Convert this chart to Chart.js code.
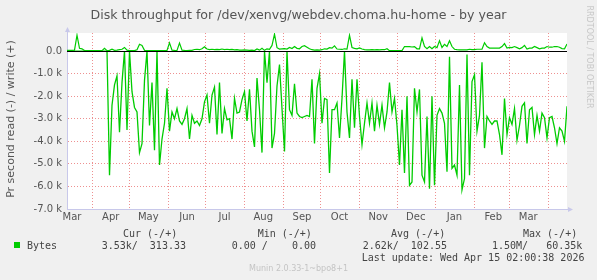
<!DOCTYPE html>
<html>
<head>
<meta charset="utf-8">
<script src="https://cdn.jsdelivr.net/npm/chart.js@4.4.1/dist/chart.umd.min.js"></script>
<style>
  html, body { margin: 0; padding: 0; background: #f0f0f0; }
  #wrap { position: relative; width: 597px; height: 280px; overflow: hidden;
          font-family: "DejaVu Sans", sans-serif; color: #555; }
  #chart { position: absolute; left: 0; top: 0; }
  .t { position: absolute; white-space: pre; }
  .mono { font-family: "DejaVu Sans Mono", monospace; font-size: 10px; line-height: 10px; color: #444; }
</style>
</head>
<body>
<div id="wrap">
  <canvas id="chart" width="597" height="280"></canvas>
  <div class="t" style="left:0;top:8px;width:597px;text-align:center;font-size:12.6px;line-height:13px;color:#555">Disk throughput for /dev/xenvg/webdev.choma.hu-home - by year</div>
  <div class="t" style="left:-89.5px;top:112.5px;width:200px;text-align:center;font-size:11px;line-height:12px;color:#555;transform:rotate(-90deg)">Pr second read (-) / write (+)</div>
  <div class="t" style="left:529px;top:52.5px;width:120px;text-align:center;font-size:8px;line-height:8px;color:#c8c8c8;transform:rotate(90deg)">RRDTOOL / TOBI OETIKER</div>

  <div class="t mono" style="left:123px;top:228.5px">Cur (-/+)</div>
  <div class="t mono" style="left:257.7px;top:228.5px">Min (-/+)</div>
  <div class="t mono" style="left:391px;top:228.5px">Avg (-/+)</div>
  <div class="t mono" style="left:523px;top:228.5px">Max (-/+)</div>

  <div class="t" style="left:14px;top:242px;width:6px;height:6px;background:#00cc00"></div>
  <div class="t mono" style="left:27px;top:240.8px">Bytes</div>
  <div class="t mono" style="left:101.7px;top:240.8px">3.53k/  313.33</div>
  <div class="t mono" style="left:231.7px;top:240.8px">0.00 /    0.00</div>
  <div class="t mono" style="left:362.7px;top:240.8px">2.62k/  102.55</div>
  <div class="t mono" style="left:492px;top:240.8px">1.50M/   60.35k</div>

  <div class="t mono" style="left:361.7px;top:252.5px">Last update: Wed Apr 15 02:00:38 2026</div>
  <div class="t" style="left:0;top:264.5px;width:597px;text-align:center;font-size:8px;line-height:8px;color:#c4c4c4">Munin 2.0.33-1~bpo8+1</div>
</div>

<script>
// one sample every 2 days, day 0 = 12 Mar 2025
const stepDays = 2;

// read (negative), bytes per second
const readBytes = [
    0, 0, 0, 0, 0, 0, 0, 0, 0, 0,
    0, 0, 0, 0, 0, 0, 0, -5500, -2400, -1500,
    -1100, -3600, -1400, 0, -3500, 0, -1800, -2500, -2700, -4500,
    -4100, -1300, 0, -3300, -1400, -4400, 0, -5050, -3900, -3200,
    -1650, -3550, -2700, -3000, -2550, -3100, -3250, -3000, -2550, -3900,
    -2850, -3200, -3100, -3300, -3000, -2250, -1950, -3200, -1950, -1600,
    -3700, -1400, -3650, -2550, -3050, -3000, -3900, -2100, -2750, -2700,
    -2150, -1800, -3100, -1700, -3550, -4250, -1200, -2600, -4500, 0,
    -1400, 0, -4300, -3650, -1550, -600, -2550, -4450, 0, -2600,
    -2850, -1450, -2750, -2900, -2950, -2900, -2850, -2900, -1250, -4100,
    -1650, -1000, -3200, -2100, -2150, -5400, -2600, -2600, -2300, -3850,
    -2100, 0, -2700, -3850, -1250, -3400, -1250, -2900, -4150, -3200,
    -2300, -3200, -2300, -3550, -2400, -3250, -2400, -3400, -2700, -1400,
    -2700, -2100, -3300, -5050, -2600, -5400, -2000, -5950, -5800, -1650,
    -2700, -1700, -5500, -5800, -2900, -6100, -2000, -5950, -2850, -2550,
    -2750, -3200, -5350, -250, -5200, -5050, -5500, -1500, -6150, -5650,
    -150, -5500, -1350, -1050, -3550, -2850, -500, -4300, -2900, -3100,
    -3250, -3100, -3100, -3700, -4600, -2100, -3700, -2950, -3250, -2550,
    -3950, -3300, -2450, -2300, -4100, -2600, -2500, -3700, -2850, -3550,
    -2750, -2950, -3850, -2950, -2900, -3400, -4100, -3400, -3550, -4000,
    -2450
];

// write (positive), bytes per second
const writeBytes = [
    30, 30, 30, 40, 700, 120, 100, 20, 20, 20,
    20, 20, 20, 20, 20, 120, 20, 30, 80, 30,
    40, 60, 80, 160, 40, 20, 20, 20, 60, 300,
    250, 30, 20, 20, 25, 20, 20, 25, 20, 20,
    30, 360, 40, 30, 25, 350, 40, 30, 25, 30,
    30, 70, 80, 60, 100, 190, 90, 60, 80, 60,
    70, 60, 90, 60, 80, 60, 70, 50, 60, 40,
    40, 50, 40, 30, 40, 20, 90, 40, 120, 30,
    100, 80, 250, 750, 150, 90, 100, 110, 90, 160,
    110, 200, 120, 100, 200, 240, 170, 100, 60, 40,
    50, 40, 60, 100, 90, 150, 130, 230, 90, 80,
    70, 100, 90, 700, 160, 120, 100, 140, 90, 60,
    50, 50, 60, 50, 60, 50, 60, 60, 100, 15,
    15, 15, 15, 15, 20, 200, 200, 200, 180, 200,
    100, 100, 580, 200, 100, 200, 100, 200, 150, 460,
    160, 300, 200, 460, 200, 80, 60, 50, 50, 50,
    50, 80, 60, 60, 80, 80, 80, 370, 200, 130,
    130, 130, 130, 130, 200, 330, 130, 160, 150, 200,
    150, 100, 150, 250, 90, 130, 130, 200, 150, 100,
    130, 130, 200, 170, 170, 200, 200, 170, 110, 100,
    310
];

const monthLabels = ["Mar", "Apr", "May", "Jun", "Jul", "Aug", "Sep", "Oct", "Nov", "Dec", "Jan", "Feb", "Mar"];
const monthMidDays = [4, 35, 65, 96, 126, 157, 188, 218, 249, 279, 310, 341, 369];
const monthStartDays = [20, 50, 81, 111, 142, 173, 203, 234, 264, 295, 326, 354, 385];
const yTicks = [-7000, -6500, -6000, -5500, -5000, -4500, -4000, -3500, -3000, -2500, -2000, -1500, -1000, -500, 0, 500];

const GREEN = "#00cc00";
const RED_GRID = "#ee9090";
const GRAY_GRID = "#bdbdbd";
const AXIS = "#c8c8ea";
const TICK_FONT = { family: "DejaVu Sans", size: 10 };

const toPoints = arr => arr.map((v, i) => ({ x: i * stepDays, y: v }));

const muninPlugin = {
    id: "munin",
    beforeDraw(chart) {
        const { ctx, chartArea: a } = chart;
        ctx.save();
        ctx.fillStyle = "#ffffff";
        ctx.fillRect(a.left, a.top, a.right - a.left, a.bottom - a.top);
        ctx.restore();
    },
    afterDatasetsDraw(chart) {
        const { ctx, chartArea: a, scales } = chart;
        const y0 = Math.round(scales.y.getPixelForValue(0)) + 0.5;
        ctx.save();
        ctx.strokeStyle = "#000000";
        ctx.lineWidth = 1;
        ctx.beginPath();
        ctx.moveTo(a.left, y0);
        ctx.lineTo(a.right, y0);
        ctx.stroke();
        ctx.restore();
    },
    afterDraw(chart) {
        const { ctx, chartArea: a } = chart;
        ctx.save();
        ctx.fillStyle = AXIS;
        ctx.strokeStyle = AXIS;
        ctx.lineWidth = 1;
        // y axis runs on above the plot and ends in an arrow
        ctx.beginPath();
        ctx.moveTo(a.left + 0.5, a.top);
        ctx.lineTo(a.left + 0.5, a.top - 4);
        ctx.stroke();
        ctx.beginPath();
        ctx.moveTo(a.left + 0.5, a.top - 6);
        ctx.lineTo(a.left - 2, a.top - 1);
        ctx.lineTo(a.left + 3, a.top - 1);
        ctx.closePath();
        ctx.fill();
        // x axis arrow
        ctx.beginPath();
        ctx.moveTo(a.right, a.bottom + 0.5);
        ctx.lineTo(a.right + 2, a.bottom + 0.5);
        ctx.stroke();
        ctx.beginPath();
        ctx.moveTo(a.right + 6, a.bottom + 0.5);
        ctx.lineTo(a.right + 1, a.bottom - 2);
        ctx.lineTo(a.right + 1, a.bottom + 3);
        ctx.closePath();
        ctx.fill();
        ctx.restore();
    }
};

new Chart(document.getElementById("chart"), {
    type: "line",
    data: {
        datasets: [
            { label: "read", data: toPoints(readBytes), borderColor: GREEN, borderWidth: 1.3, pointRadius: 0, tension: 0, fill: false },
            { label: "write", data: toPoints(writeBytes), borderColor: GREEN, borderWidth: 1.2, pointRadius: 0, tension: 0, fill: false }
        ]
    },
    options: {
        responsive: false,
        animation: false,
        events: [],
        layout: { padding: { top: 33, left: 0, right: 30, bottom: 0 } },
        plugins: { legend: { display: false }, title: { display: false }, tooltip: { enabled: false } },
        scales: {
            x: {
                type: "linear",
                min: 0, max: 400,
                afterBuildTicks: s => {
                    s.ticks = monthStartDays.concat(monthMidDays).sort((a, b) => a - b).map(v => ({ value: v }));
                },
                afterFit: s => { s.height = 71; },
                ticks: {
                    autoSkip: false, maxRotation: 0, minRotation: 0, padding: 2,
                    color: "#555", font: TICK_FONT,
                    callback: v => {
                        const k = monthMidDays.indexOf(v);
                        return k >= 0 ? monthLabels[k] : "";
                    }
                },
                grid: {
                    drawTicks: false,
                    color: c => (c.tick && monthStartDays.includes(c.tick.value)) ? RED_GRID : "rgba(0,0,0,0)"
                },
                border: { color: AXIS, width: 1, dash: [1, 2] }
            },
            y: {
                min: -7000, max: 800,
                afterBuildTicks: s => { s.ticks = yTicks.map(v => ({ value: v })); },
                afterFit: s => { s.width = 67; },
                ticks: {
                    padding: 5, color: "#555", font: TICK_FONT,
                    callback: v => {
                        if (v % 1000 !== 0) return "";
                        return v === 0 ? "0.0" : (v / 1000).toFixed(1) + " k";
                    }
                },
                grid: {
                    drawTicks: false,
                    color: c => {
                        if (!c.tick) return "rgba(0,0,0,0)";
                        const v = c.tick.value;
                        if (v === 0) return "rgba(0,0,0,0)";
                        return v % 1000 === 0 ? RED_GRID : GRAY_GRID;
                    }
                },
                border: { color: AXIS, width: 1, dash: [1, 2] }
            }
        }
    },
    plugins: [muninPlugin]
});
</script>
</body>
</html>
